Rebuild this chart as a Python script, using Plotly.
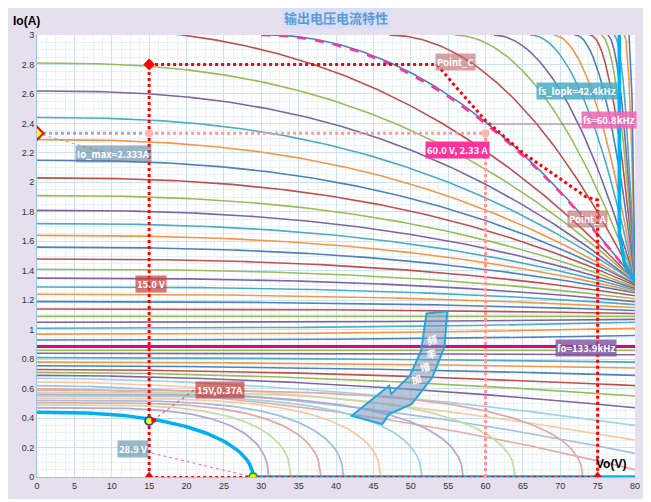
import plotly.graph_objects as go

# Upper curve family (start current at Vo=0, current at Vo=80)
upper_i0 = [3.05, 2.81, 2.62, 2.44, 2.29, 2.15, 2.03, 1.91, 1.81, 1.72, 1.64, 1.56,
            1.48, 1.41, 1.35, 1.29, 1.24, 1.19, 1.14, 1.09, 1.05, 1.01, 0.97, 0.93]
upper_iend = [1.33, 1.33, 1.32, 1.32, 1.31, 1.31, 1.30, 1.29, 1.28, 1.27, 1.26, 1.25,
              1.23, 1.21, 1.19, 1.17, 1.15, 1.13, 1.11, 1.09, 1.07, 1.05, 1.01, 0.96]
# Curves entering from the top edge (Vo where they cross 3 A)
entry_v = [30.7, 47, 55.7, 61, 66, 69, 72, 74, 75.4, 76.3, 77.2, 78.6, 79.2]
# Lower curves that still reach Vo=80
mid_i0 = [0.86, 0.84, 0.81, 0.78, 0.755, 0.73, 0.71, 0.69, 0.67, 0.645, 0.62, 0.60]
mid_iend = [0.86, 0.83, 0.78, 0.74, 0.69, 0.62, 0.55, 0.47, 0.35, 0.25, 0.16, 0.05]
# Curves dropping to zero before Vo=80
low_i0 = [0.59, 0.575, 0.56, 0.55, 0.535, 0.52, 0.505, 0.49, 0.47]
low_vend = [73, 64, 57, 51.5, 46, 41, 38, 34, 31]

fo_current = 0.885
bold_i0, bold_vend = 0.44, 28.9

# "频率增加" arrow outline
arrow_v = [52.1, 54.9, 54.5, 52.9, 50.1, 47.1, 46.2, 42.1, 47.1, 47.4, 49.9, 51.4]
arrow_i = [1.109, 1.125, 0.882, 0.677, 0.495, 0.427, 0.359, 0.416, 0.620, 0.564, 0.689, 0.859]

palette = ["#C0504D", "#9BBB59", "#8064A2", "#4BACC6", "#F79646", "#4F81BD"]
pastel = ["#E6A9A7", "#C9DBA6", "#B8A8CF", "#9FD3E2", "#F9C9A3", "#A5BEDF"]

vs = [i * 0.4 for i in range(201)]

fig = go.Figure()


def add_line(x, y, color, width=1.6, dash=None):
    fig.add_trace(go.Scatter(x=x, y=y, mode="lines", hoverinfo="skip",
                             line=dict(color=color, width=width, dash=dash)))


for k, v0 in enumerate(entry_v):
    xs = [v for v in vs if v >= v0 - 4]
    ys = [3 - 1.67 * ((v - v0) / (80 - v0)) ** 2 if v >= v0 else 3 + (v0 - v) * 0.1 for v in xs]
    add_line(xs, ys, palette[(k + 5) % 6])

for k, (a, b) in enumerate(zip(upper_i0, upper_iend)):
    ys = [a - (a - b) * (v / 80) ** 2.5 for v in vs]
    add_line(vs, ys, palette[k % 6])

add_line(vs, [fo_current] * len(vs), "#E6007E", 3)

for k, (a, b) in enumerate(zip(mid_i0, mid_iend)):
    ys = [a - (a - b) * (v / 80) ** 1.8 for v in vs]
    add_line(vs, ys, palette[(k + 1) % 6] if k < 8 else pastel[(k + 1) % 6])

for k, (a, ve) in enumerate(zip(low_i0, low_vend)):
    xs = [v for v in vs if v < ve] + [ve]
    ys = [a * max(0, 1 - (v / ve) ** 4) ** 0.45 for v in xs]
    add_line(xs, ys, pastel[k % 6], 1.8)

# bold lowest curve
xs = [v for v in vs if v < bold_vend] + [bold_vend, 80]
ys = [bold_i0 * max(0, 1 - (v / bold_vend) ** 2.5) ** 0.5 for v in xs[:-2]] + [0, 0]
add_line(xs, ys, "#00B0F0", 3.5)

# fs=60.8kHz pink dashed
pv = [v for v in vs if v >= 30]
add_line(pv, [3 - 1.67 * ((v - 30) / 50) ** 2 for v in pv], "#FF3399", 2.5, "dash")
# fs_lopk boundary
add_line([77.9, 77.9, 78.6, 80], [3.0, 1.65, 1.45, 1.33], "#00B0F0", 3.5)

# operating point guides
add_line([15, 15], [0, 2.8], "#FF0000", 3, "dot")
add_line([15, 53.5, 56, 60, 65, 70, 73.5, 75, 75], [2.8, 2.8, 2.65, 2.42, 2.2, 2.02, 1.9, 1.88, 0],
         "#FF0000", 3, "dot")
add_line([15, 75], [0, 0], "#FF0000", 2, "dot")
add_line([0, 15], [2.333, 2.333], "#B4A0D8", 3, "dot")
add_line([15, 60], [2.333, 2.333], "#FF9999", 3, "dot")
add_line([60, 60], [0, 2.333], "#FF9999", 3, "dot")
add_line([0, 10], [2.333, 2.19], "#4BACC6", 0.8, "dot")
add_line([15.5, 21], [0.385, 0.59], "#FF0000", 0.8, "dot")
add_line([13, 28.9], [0.19, 0], "#FF3399", 0.8, "dot")
add_line([60, 77], [2.395, 2.395], "#8064A2", 0.8)
add_line([75.5, 76.5], [2.55, 2.63], "#4BACC6", 0.8)

mk = dict(mode="markers", hoverinfo="skip")
fig.add_trace(go.Scatter(x=[15], y=[2.8], marker=dict(symbol="diamond", size=9, color="#FF0000"), **mk))
fig.add_trace(go.Scatter(x=[0], y=[2.333], marker=dict(symbol="diamond", size=10, color="#FFFF00",
                                                        line=dict(color="#FF0000", width=2)), **mk))
fig.add_trace(go.Scatter(x=[15, 60], y=[2.333, 2.333], marker=dict(size=8, color="#FFB3B3"), **mk))
fig.add_trace(go.Scatter(x=[15], y=[0.38], marker=dict(size=8, color="#FFFF00",
                                                      line=dict(color="#1F5FA0", width=2)), **mk))
fig.add_trace(go.Scatter(x=[15.6], y=[0.385], marker=dict(size=5, color="#FF0000"), **mk))
fig.add_trace(go.Scatter(x=[28.9], y=[0], marker=dict(size=8, color="#FFFF00",
                                                     line=dict(color="#00B050", width=2)), **mk))
fig.add_trace(go.Scatter(x=[15, 75], y=[0.01, 0.01], marker=dict(symbol="triangle-up", size=8,
                                                                color="#FF0000"), **mk))

path = "M " + " L ".join(f"{x},{y}" for x, y in zip(arrow_v, arrow_i)) + " Z"
fig.add_shape(type="path", path=path, xref="x", yref="y", fillcolor="rgba(120,150,190,0.55)",
              line=dict(color="#1FA8E0", width=2))
for ch, x, y in [("频", 52.9, 0.93), ("率", 52.7, 0.84), ("增", 51.9, 0.75), ("加", 50.7, 0.67)]:
    fig.add_annotation(x=x, y=y, text=f"<b>{ch}</b>", showarrow=False, textangle=-15,
                       font=dict(color="white", size=10, family="Noto Sans CJK SC"))


def label(x, y, text, bg):
    fig.add_annotation(x=x, y=y, text=f"<b>{text}</b>", showarrow=False, bgcolor=bg, borderpad=1,
                       font=dict(color="white", size=9.5, family="Noto Sans CJK SC"))


label(56, 2.82, "Point_C", "rgba(192,100,100,0.6)")
label(72.3, 2.62, "fs_lopk=42.4kHz", "rgba(75,172,198,0.85)")
label(76.5, 2.42, "fs=60.8kHz", "rgba(240,100,180,0.85)")
label(10.3, 2.19, "Io_max=2.333A", "rgba(90,130,160,0.6)")
label(56.2, 2.22, "60.0 V, 2.33 A", "#FF3399")
label(73.7, 1.75, "Point_A", "rgba(192,100,100,0.6)")
label(15.2, 1.31, "15.0 V", "rgba(200,60,60,0.7)")
label(73.4, 0.875, "fo=133.9kHz", "rgba(128,80,160,0.8)")
label(24.5, 0.59, "15V,0.37A", "rgba(200,60,60,0.7)")
label(12.8, 0.19, "28.9 V", "rgba(80,140,160,0.6)")
fig.add_annotation(x=76.8, y=0.09, text="<b>Vo(V)</b>", showarrow=False,
                   font=dict(color="black", size=12, family="Liberation Sans"))
fig.add_annotation(x=0.0, y=1.0, xref="paper", yref="paper", xanchor="left", yanchor="bottom",
                   xshift=-26, yshift=5, text="<b>Io(A)</b>", showarrow=False,
                   font=dict(color="black", size=12, family="Liberation Sans"))
fig.add_annotation(x=0.5, y=1.0, xref="paper", yref="paper", yanchor="bottom", yshift=6,
                   text="<b>输出电压电流特性</b>", showarrow=False, bgcolor="rgba(200,220,255,0.5)",
                   font=dict(color="#5B9BD5", size=13, family="Noto Sans CJK SC"))

fig.update_layout(
    width=640, height=491, showlegend=False,
    margin=dict(l=29, r=8, t=27, b=18),
    paper_bgcolor="#E6E0EE", plot_bgcolor="white",
    font=dict(family="Liberation Sans", size=9, color="#333"),
)
fig.update_xaxes(range=[0, 80], dtick=5, showgrid=True, gridcolor="#C9E3F0", zeroline=False,
                 minor=dict(dtick=1.25, gridcolor="#E8F3F8", showgrid=True),
                 ticks="", linecolor="#9DC3E6", showline=True)
fig.update_yaxes(range=[0, 3], dtick=0.2, showgrid=True, gridcolor="#C9E3F0", zeroline=False,
                 minor=dict(dtick=0.05, gridcolor="#E8F3F8", showgrid=True),
                 ticks="", linecolor="#9DC3E6", showline=True)

fig.write_html("out.html", config={"displayModeBar": False})
